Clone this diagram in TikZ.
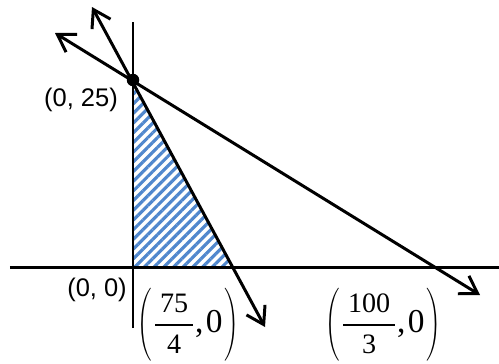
\documentclass[tikz,border=0pt]{standalone}
\usepackage{amsmath}
\usepackage{graphicx}
\usepackage{fontspec}
\setmainfont{Liberation Sans}
\newfontfamily\tnr{Liberation Serif}
\usetikzlibrary{arrows.meta,patterns.meta}
\definecolor{hatchblue}{RGB}{80,135,205}
\newcommand{\numsz}{\fontsize{16}{18}\selectfont\tnr}
\newcommand{\ptfrac}[2]{\scalebox{0.65}[1]{$\biggl($}\kern1pt$\dfrac{\text{\numsz\,#1\,}}{\text{\numsz #2}}$\tnr,\kern1.5pt0\kern1pt\scalebox{0.65}[1]{$\biggr)$}}
\begin{document}
\begin{tikzpicture}[x=0.02cm,y=0.02cm,
		axis/.style={line width=1.7pt},
		bound/.style={line width=1.7pt,>={Straight Barb[length=9.5pt,width=12pt]},<->},
		lbl/.style={font=\fontsize{14.5}{17}\selectfont,inner sep=0pt},
		fraclbl/.style={font=\fontsize{19}{22}\selectfont,inner sep=0pt}]
		\useasboundingbox[fill=white] (-133,-96) rectangle (366,267);
		
		\coordinate (O) at (0,0);
		\coordinate (P) at (0,187);
		\coordinate (A) at (100,0);
		\coordinate (B) at (297,0);
		
		% feasible region
		\fill[pattern={Lines[angle=45,distance=3.9pt,line width=1.8pt]},pattern color=hatchblue] (O) -- (P) -- (A) -- cycle;
		
		% axes
		\coordinate (yt) at (0,245);
		\coordinate (yb) at (0,-61);
		\coordinate (xl) at (-123,0);
		\coordinate (xr) at (366,0);
		\draw[axis] (yb) -- (yt);
		\draw[axis] (xl) -- (xr);
		
		% constraint lines
		\coordinate (s1) at (-41,260);
		\coordinate (s2) at (132,-60);
		\coordinate (t1) at (-78,234);
		\coordinate (t2) at (347,-28);
		\draw[bound] (s1) -- (s2);
		\draw[bound] (t1) -- (t2);
		
		\node[circle,fill,inner sep=0pt,minimum size=0.25cm] (dot) at (P) {};
		
		\node[lbl] (l25) at (-52,167) {(0, 25)};
		\node[lbl] (l0) at (-36,-23) {(0, 0)};
		\node[fraclbl] (fa) at (55,-58) {\ptfrac{75}{4}};
		\node[fraclbl] (fb) at (250,-58) {\ptfrac{100}{3}};
	\end{tikzpicture}
\end{document}
